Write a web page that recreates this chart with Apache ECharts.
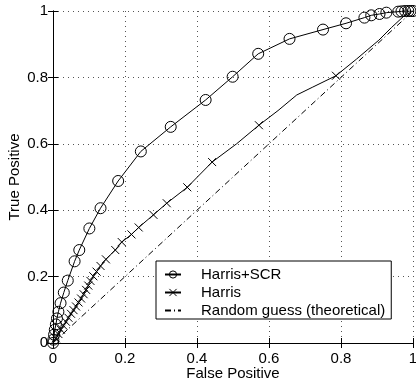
<!DOCTYPE html>
<html>
<head>
<meta charset="utf-8">
<script src="https://cdn.jsdelivr.net/npm/echarts@6/dist/echarts.min.js"></script>
<style>
  html, body { margin: 0; padding: 0; background: #fff; }
  #chart { width: 416px; height: 385px; }
</style>
</head>
<body>
<div id="chart"></div>
<script>
// Harris+SCR 曲线（每个点都有圆圈标记）
const scrX = [0, 0.001, 0.003, 0.005, 0.008, 0.011, 0.015, 0.021, 0.030, 0.041, 0.060, 0.073, 0.101, 0.132, 0.181, 0.244, 0.327, 0.424, 0.499, 0.570, 0.657, 0.750, 0.814, 0.865, 0.884, 0.907, 0.926, 0.959, 0.968, 0.978, 0.987, 0.993, 1]
const scrY = [0, 0.010, 0.025, 0.040, 0.056, 0.074, 0.094, 0.120, 0.152, 0.188, 0.246, 0.280, 0.345, 0.406, 0.488, 0.577, 0.651, 0.732, 0.802, 0.871, 0.916, 0.944, 0.963, 0.980, 0.987, 0.991, 0.995, 0.998, 0.999, 1, 1, 1, 1]

// Harris 曲线，harrisMark 为 1 的点画叉号
const harrisX = [0, 0.008, 0.015, 0.022, 0.029, 0.036, 0.043, 0.050, 0.057, 0.064, 0.071, 0.078, 0.085, 0.092, 0.098, 0.104, 0.112, 0.121, 0.132, 0.147, 0.173, 0.191, 0.218, 0.238, 0.279, 0.316, 0.373, 0.442, 0.510, 0.572, 0.625, 0.677, 0.720, 0.786, 0.843, 0.905, 0.940, 0.975, 1]
const harrisY = [0, 0.014, 0.027, 0.040, 0.052, 0.064, 0.076, 0.088, 0.099, 0.110, 0.122, 0.134, 0.147, 0.160, 0.173, 0.187, 0.201, 0.215, 0.232, 0.252, 0.280, 0.304, 0.327, 0.348, 0.386, 0.421, 0.469, 0.545, 0.600, 0.656, 0.700, 0.747, 0.770, 0.805, 0.855, 0.912, 0.950, 0.985, 1]
const harrisMark = [0, 1, 1, 1, 1, 1, 1, 1, 1, 1, 1, 1, 1, 1, 1, 1, 1, 1, 1, 1, 1, 1, 1, 1, 1, 1, 1, 1, 0, 1, 0, 0, 0, 1, 0, 0, 0, 0, 0]

// 随机猜测（理论）对角线
const randX = [0, 1]
const randY = [0, 1]

const xTicks = [0, 0.2, 0.4, 0.6, 0.8, 1]

const FONT = 'Liberation Sans, Arial, Helvetica, sans-serif'
const xPath = 'path://M0,0L10,10M10,0L0,10'

const chart = echarts.init(document.getElementById('chart'))

const frameAxis = {
  min: 0,
  max: 1,
  interval: 0.2,
  axisLine: { show: true, lineStyle: { color: '#000', width: 1 } },
  axisTick: { show: true, inside: true, length: 5, lineStyle: { color: '#000' } },
  axisLabel: { show: false },
  splitLine: { show: false }
}

const option = {
  animation: false,
  grid: { left: 53, right: 3, top: 11, bottom: 42, containLabel: false, outerBoundsMode: 'none' },
  // 坐标轴标题，用 graphic 文本精确定位
  graphic: [
    {
      type: 'text',
      x: 233,
      y: 374,
      style: { text: 'False Positive', font: '15px ' + FONT, fill: '#000', align: 'center', verticalAlign: 'middle' }
    },
    {
      type: 'text',
      x: 15,
      y: 177,
      rotation: Math.PI / 2,
      style: { text: 'True Positive', font: '15px ' + FONT, fill: '#000', align: 'center', verticalAlign: 'middle' }
    }
  ],
  xAxis: [
    {
      type: 'value',
      min: xTicks[0],
      max: xTicks[xTicks.length - 1],
      interval: 0.2,
      axisLine: { show: true, lineStyle: { color: '#000', width: 1 } },
      axisTick: { show: true, inside: true, length: 5, lineStyle: { color: '#000' } },
      axisLabel: { fontFamily: FONT, fontSize: 15, color: '#000', margin: 8 },
      splitLine: { show: true, lineStyle: { color: '#555', width: 1, type: [1, 4] } }
    },
    { type: 'value', position: 'top', ...frameAxis }
  ],
  yAxis: [
    {
      type: 'value',
      min: 0,
      max: 1,
      interval: 0.2,
      axisLine: { show: true, lineStyle: { color: '#000', width: 1 } },
      axisTick: { show: true, inside: true, length: 5, lineStyle: { color: '#000' } },
      axisLabel: { fontFamily: FONT, fontSize: 15, color: '#000', margin: 5 },
      splitLine: { show: true, lineStyle: { color: '#555', width: 1, type: [1, 4] } }
    },
    { type: 'value', position: 'right', ...frameAxis }
  ],
  legend: {
    orient: 'vertical',
    left: 156,
    top: 261,
    padding: [6, 6, 1, 8],
    itemWidth: 16,
    itemHeight: 9,
    itemGap: 3,
    backgroundColor: '#fff',
    borderColor: '#000',
    borderWidth: 1,
    borderRadius: 0,
    textStyle: { fontFamily: FONT, fontSize: 15, color: '#000', lineHeight: 15, padding: [0, 0, 0, 15] },
    data: [
      { name: 'Harris+SCR', itemStyle: { color: 'rgba(0,0,0,0)', borderColor: '#000', borderWidth: 1 } },
      { name: 'Harris', itemStyle: { color: '#000', borderColor: '#000', borderWidth: 1 } },
      { name: 'Random guess (theoretical)', itemStyle: { opacity: 0 } }
    ]
  },
  series: [
    {
      name: 'Random guess (theoretical)',
      type: 'line',
      data: randX.map((x, i) => [x, randY[i]]),
      symbol: 'circle',
      showSymbol: false,
      itemStyle: { color: 'rgba(0,0,0,0)' },
      lineStyle: { color: '#000', width: 1, type: [6, 3, 1, 3] },
      z: 2
    },
    {
      name: 'Harris',
      type: 'line',
      data: harrisX.map((x, i) => ({
        value: [x, harrisY[i]],
        symbol: harrisMark[i] ? xPath : 'none'
      })),
      symbol: xPath,
      symbolSize: 8,
      itemStyle: { color: '#000', borderColor: '#000', borderWidth: 1 },
      lineStyle: { color: '#000', width: 1 },
      z: 3
    },
    {
      name: 'Harris+SCR',
      type: 'line',
      data: scrX.map((x, i) => [x, scrY[i]]),
      symbol: 'circle',
      symbolSize: 11,
      itemStyle: { color: 'rgba(0,0,0,0)', borderColor: '#000', borderWidth: 1 },
      lineStyle: { color: '#000', width: 1 },
      z: 4
    }
  ]
}

chart.setOption(option)
</script>
</body>
</html>
